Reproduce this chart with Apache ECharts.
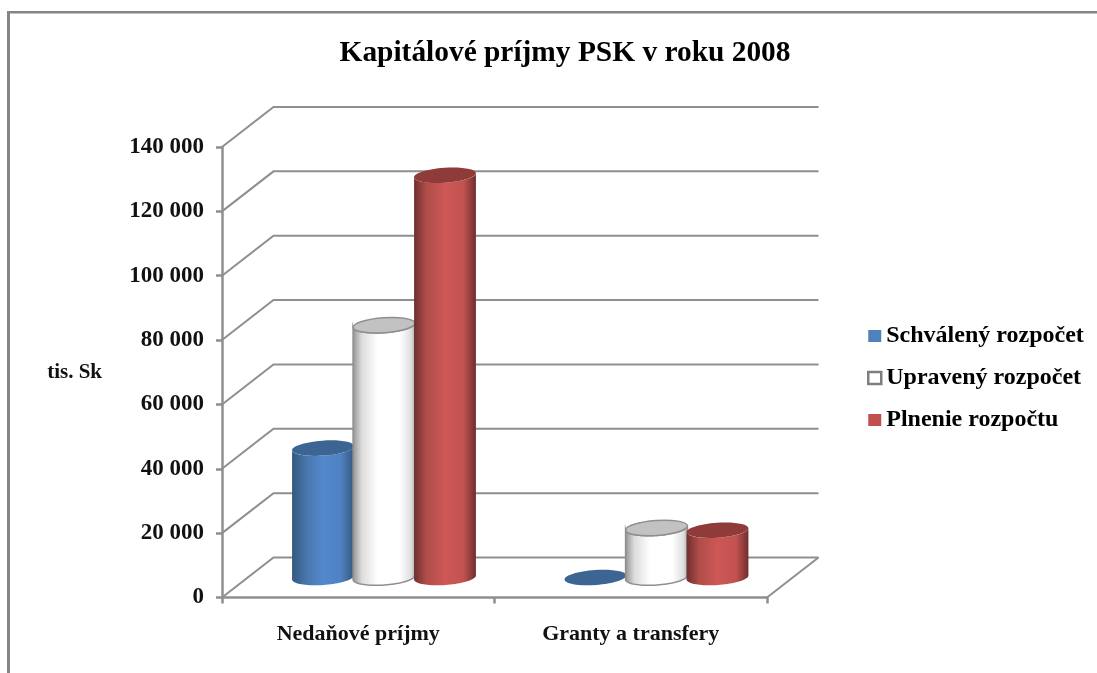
<!DOCTYPE html>
<html>
<head>
<meta charset="utf-8">
<style>html,body{margin:0;padding:0;background:#fff}#c{width:1097px;height:673px}</style>
<script src="https://cdn.jsdelivr.net/npm/echarts@6/dist/echarts.min.js"></script>
</head>
<body>
<div id="c"></div>
<script>
const categories = ['Nedaňové príjmy', 'Granty a transfery'];
const schvaleny = [40200, 0];
const upraveny = [78400, 15400];
const plnenie = [125000, 14700];
const yTicks = [0, 20000, 40000, 60000, 80000, 100000, 120000, 140000];
const tickLabels = ['0', '20 000', '40 000', '60 000', '80 000', '100 000', '120 000', '140 000'];
const seriesNames = ['Schválený rozpočet', 'Upravený rozpočet', 'Plnenie rozpočtu'];

const FONT = '"Liberation Serif", serif';
const GRAY = '#8f8f8f';
const DEPTH_X = 51.5, DEPTH_Y = -40;
const SPACING = 61, RX = 31, RY = 7.5, TILT = 0.07;
const LG = echarts.graphic.LinearGradient;

const looks = [
  { cap: '#3d6594', stroke: null,
    body: [[0,'#35587f'],[0.25,'#4a78b0'],[0.5,'#5288cc'],[0.78,'#4f82c2'],[1,'#35587f']] },
  { cap: '#c2c2c2', stroke: '#8f8f8f',
    body: [[0,'#8f8f8f'],[0.15,'#dcdcdc'],[0.4,'#ffffff'],[0.75,'#ffffff'],[0.93,'#dedede'],[1,'#a0a0a0']] },
  { cap: '#8e3b39', stroke: null,
    body: [[0,'#6f2f2d'],[0.2,'#b04c49'],[0.5,'#cd5855'],[0.8,'#c25250'],[1,'#6f2f2d']] }
];

// Outline of a tilted cylinder side: bottom half of the base ellipse closed up to the top ellipse.
function sideOutline(cx, yTop, yBase) {
  const pts = [];
  const cos = Math.cos(TILT), sin = Math.sin(TILT);
  const at = (t, cy) => {
    const ex = RX * Math.cos(t), ey = RY * Math.sin(t);
    return [cx + ex * cos + ey * sin, cy - ex * sin + ey * cos];
  };
  for (let i = 0; i <= 40; i++) pts.push(at(i / 40 * Math.PI, yBase));
  for (let i = 0; i <= 40; i++) pts.push(at(Math.PI - i / 40 * Math.PI, yTop));
  return pts;
}

function cylinder(look, seriesPos) {
  return function (params, api) {
    const cat = api.value(0), val = api.value(1);
    const top = api.coord([cat, val]);
    const base = api.coord([cat, 0]);
    const cx = top[0] + DEPTH_X / 2 + seriesPos * SPACING;
    const yTop = top[1] + DEPTH_Y / 2;
    const yBase = base[1] + DEPTH_Y / 2;
    const children = [];
    if (val > 0) {
      children.push({
        type: 'polygon',
        shape: { points: sideOutline(cx, yTop, yBase) },
        style: {
          fill: new LG(0, 0, 1, 0, look.body.map(s => ({ offset: s[0], color: s[1] }))),
          stroke: look.stroke || null, lineWidth: look.stroke ? 1.5 : 0
        }
      });
    }
    children.push({
      type: 'ellipse',
      shape: { cx, cy: yTop, rx: RX, ry: RY },
      rotation: TILT, originX: cx, originY: yTop,
      style: { fill: look.cap, stroke: look.stroke || null, lineWidth: look.stroke ? 1.5 : 0 }
    });
    return { type: 'group', children };
  };
}

function wallLines(params, api) {
  const sys = params.coordSys;
  const y = api.coord([0, api.value(0)])[1];
  const xl = sys.x, xr = sys.x + sys.width;
  const children = [{
    type: 'polyline',
    shape: { points: [[xl, y], [xl + DEPTH_X, y + DEPTH_Y], [xr + DEPTH_X, y + DEPTH_Y]] },
    style: { fill: null, stroke: GRAY, lineWidth: 2 }
  }];
  if (api.value(0) === 0) {
    children.push({
      type: 'line',
      shape: { x1: xr, y1: y, x2: xr + DEPTH_X, y2: y + DEPTH_Y },
      style: { stroke: GRAY, lineWidth: 2 }
    });
  }
  return { type: 'group', children };
}

const toPairs = arr => arr.map((v, i) => [i, v]);
const chart = echarts.init(document.getElementById('c'), null, { renderer: 'canvas' });
chart.setOption({
  animation: false,
  backgroundColor: '#fff',
  title: {
    text: 'Kapitálové príjmy PSK v roku 2008',
    left: 560, top: 34, textAlign: 'center',
    textStyle: { fontFamily: FONT, fontSize: 29.4, fontWeight: 'bold', color: '#000' }
  },
  legend: {
    orient: 'vertical', left: 862, top: 318, itemWidth: 13, itemHeight: 12, itemGap: 16,
    textStyle: { fontFamily: FONT, fontSize: 24, fontWeight: 'bold', color: '#000', lineHeight: 26 },
    data: [
      { name: seriesNames[0], icon: 'rect', itemStyle: { color: '#4f81bd' } },
      { name: seriesNames[1], icon: 'rect', itemStyle: { color: '#fff', borderColor: '#7f7f7f', borderWidth: 2.5 } },
      { name: seriesNames[2], icon: 'rect', itemStyle: { color: '#c0504d' } }
    ]
  },
  grid: { left: 222, top: 147, width: 545, height: 450.5 },
  xAxis: {
    type: 'category', data: categories, boundaryGap: true,
    axisLine: { lineStyle: { color: GRAY, width: 2.5 } },
    axisTick: { show: true, alignWithLabel: false, length: 6, lineStyle: { color: GRAY, width: 2.5 } },
    axisLabel: { margin: 26, fontFamily: FONT, fontSize: 22, fontWeight: 'bold', color: '#111' }
  },
  yAxis: {
    type: 'value', min: 0, max: 140000, interval: 20000,
    name: 'tis. Sk', nameLocation: 'middle', nameRotate: 0, nameGap: 120,
    nameTextStyle: { fontFamily: FONT, fontSize: 21, fontWeight: 'bold', color: '#111' },
    axisLine: { show: true, lineStyle: { color: GRAY, width: 2.5 } },
    axisTick: { show: true, length: 6, lineStyle: { color: GRAY, width: 2.5 } },
    splitLine: { show: false },
    axisLabel: {
      margin: 18, fontFamily: FONT, fontSize: 23, fontWeight: 'bold', color: '#111',
      formatter: v => tickLabels[yTicks.indexOf(v)]
    }
  },
  graphic: [
    { type: 'rect', silent: true, shape: { x: 7, y: 11, width: 1090, height: 2.5 }, style: { fill: '#858585' } },
    { type: 'rect', silent: true, shape: { x: 7, y: 11, width: 3, height: 662 }, style: { fill: '#858585' } }
  ],
  series: [
    { type: 'custom', name: 'walls', silent: true, z: 1, clip: false,
      coordinateSystem: 'cartesian2d', encode: { y: 0 }, data: yTicks.map(v => [v]), renderItem: wallLines },
    { type: 'custom', name: seriesNames[0], z: 3, clip: false, encode: { x: 0, y: 1 },
      data: toPairs(schvaleny), renderItem: cylinder(looks[0], -1), itemStyle: { color: '#4f81bd' } },
    { type: 'custom', name: seriesNames[1], z: 4, clip: false, encode: { x: 0, y: 1 },
      data: toPairs(upraveny), renderItem: cylinder(looks[1], 0), itemStyle: { color: '#fff' } },
    { type: 'custom', name: seriesNames[2], z: 5, clip: false, encode: { x: 0, y: 1 },
      data: toPairs(plnenie), renderItem: cylinder(looks[2], 1), itemStyle: { color: '#c0504d' } }
  ]
});
</script>
</body>
</html>
